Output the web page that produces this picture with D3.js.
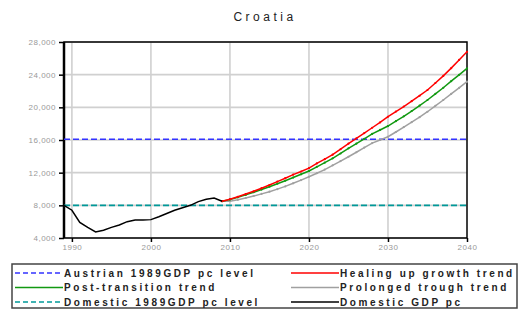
<!DOCTYPE html>
<html>
<head>
<meta charset="utf-8">
<script src="https://cdnjs.cloudflare.com/ajax/libs/d3/7.8.5/d3.min.js"></script>
<style>
  body { margin: 0; background: #fff; }
  svg { display: block; }
</style>
</head>
<body>
<div id="chart"></div>
<script>
var histYears = [1989,1990,1991,1992,1993,1994,1995,1996,1997,1998,1999,2000,2001,2002,2003,2004,2005,2006,2007,2008,2009];
var domesticGdp = [8000,7400,5900,5300,4750,4950,5300,5600,6000,6200,6200,6250,6600,7000,7400,7700,8000,8450,8750,8900,8500];

var projYears = [2009,2010,2011,2012,2013,2014,2015,2016,2017,2018,2019,2020,2021,2022,2023,2024,2025,2026,2027,2028,2029,2030,2031,2032,2033,2034,2035,2036,2037,2038,2039,2040];
var healingTrend = [8500,8750,9050,9380,9720,10100,10490,10900,11320,11760,12140,12550,13130,13650,14200,14870,15550,16200,16850,17500,18150,18850,19480,20100,20750,21420,22120,22980,23850,24800,25800,26800];
var postTransTrend = [8500,8700,8980,9280,9600,9930,10280,10640,11010,11400,11800,12200,12720,13220,13760,14350,14980,15550,16150,16750,17230,17710,18300,18900,19550,20200,20900,21650,22400,23200,23980,24780];
var troughTrend = [8500,8500,8680,8900,9140,9400,9670,9980,10320,10700,11090,11500,11930,12380,12900,13420,13950,14500,15070,15620,16000,16400,16980,17580,18180,18800,19460,20180,20900,21640,22380,23140];

var austrianLevel = 16100;
var domesticLevel = 8000;

var yTicks = [4000,8000,12000,16000,20000,24000,28000];
var xTicks = [1990,2000,2010,2020,2030,2040];

var legendLabels = ["Austrian 1989GDP pc level","Healing up growth trend","Post-transition trend","Prolonged trough trend","Domestic 1989GDP pc level","Domestic GDP pc"];

var width = 522, height = 313;
var plotL = 64, plotR = 467, plotT = 42, plotB = 238;

var svg = d3.select("#chart").append("svg")
    .attr("width", width)
    .attr("height", height);

var x = d3.scaleLinear().domain([1989, 2040]).range([plotL, plotR]);
var y = d3.scaleLinear().domain([4000, 28000]).range([plotB, plotT]);

// title
svg.append("text")
    .attr("x", 265)
    .attr("y", 21)
    .attr("text-anchor", "middle")
    .attr("font-family", "Liberation Sans, Arial, sans-serif")
    .attr("font-size", "12px")
    .attr("letter-spacing", "3.5px")
    .attr("fill", "#222")
    .text("Croatia");

// grid
svg.append("g").selectAll("line")
    .data(yTicks)
    .enter().append("line")
    .attr("x1", plotL).attr("x2", plotR)
    .attr("y1", function(d) { return y(d); })
    .attr("y2", function(d) { return y(d); })
    .attr("stroke", "#d0d0d0")
    .attr("stroke-width", 1.6);

svg.append("g").selectAll("line")
    .data(xTicks.slice(0, 5))
    .enter().append("line")
    .attr("y1", plotT).attr("y2", plotB)
    .attr("x1", function(d) { return x(d); })
    .attr("x2", function(d) { return x(d); })
    .attr("stroke", "#d0d0d0")
    .attr("stroke-width", 1.6);

// axes
var yAxis = d3.axisLeft(y).tickValues(yTicks).tickSize(5).tickPadding(3)
    .tickFormat(d3.format(","));
var xAxis = d3.axisBottom(x).tickValues(xTicks).tickSize(4).tickPadding(2)
    .tickFormat(d3.format("d"));

var gy = svg.append("g").attr("transform", "translate(" + plotL + ",0)").call(yAxis);
var gx = svg.append("g").attr("transform", "translate(0," + plotB + ")").call(xAxis);

[gy, gx].forEach(function(g) {
    g.select(".domain").remove();
    g.selectAll(".tick line").attr("stroke", "#000").attr("stroke-width", 1.5);
    g.selectAll(".tick text")
        .attr("font-family", "Liberation Sans, Arial, sans-serif")
        .attr("font-size", "8px")
        .attr("letter-spacing", "0.5px")
        .attr("fill", "#999");
});

// frame
svg.append("rect")
    .attr("x", plotL).attr("y", plotT)
    .attr("width", plotR - plotL).attr("height", plotB - plotT)
    .attr("fill", "none")
    .attr("stroke", "#000")
    .attr("stroke-width", 1.5);
svg.append("line")
    .attr("x1", plotL).attr("x2", plotL).attr("y1", plotT).attr("y2", plotB)
    .attr("stroke", "#000").attr("stroke-width", 2.5);

// reference levels
svg.append("line")
    .attr("x1", plotL).attr("x2", plotR)
    .attr("y1", y(austrianLevel)).attr("y2", y(austrianLevel))
    .attr("stroke", "#3333ff").attr("stroke-width", 1.6)
    .attr("stroke-dasharray", "6,3");
svg.append("line")
    .attr("x1", plotL).attr("x2", plotR)
    .attr("y1", y(domesticLevel)).attr("y2", y(domesticLevel))
    .attr("stroke", "#009999").attr("stroke-width", 1.6)
    .attr("stroke-dasharray", "6,3");

var line = d3.line()
    .x(function(d) { return x(d[0]); })
    .y(function(d) { return y(d[1]); });

function drawSeries(years, values, color, dots) {
    var pts = d3.zip(years, values);
    svg.append("path")
        .datum(pts)
        .attr("fill", "none")
        .attr("stroke", color)
        .attr("stroke-width", 1.5)
        .attr("d", line);
    if (dots) {
        svg.append("g").selectAll("circle")
            .data(pts)
            .enter().append("circle")
            .attr("cx", function(d) { return x(d[0]); })
            .attr("cy", function(d) { return y(d[1]); })
            .attr("r", 1.1)
            .attr("fill", color);
    }
}

drawSeries(projYears, troughTrend, "#a0a0a0", true);
drawSeries(projYears, postTransTrend, "#119911", true);
drawSeries(projYears, healingTrend, "#ff0000", true);
drawSeries(histYears, domesticGdp, "#000", false);

// legend
svg.append("rect")
    .attr("x", 12).attr("y", 264)
    .attr("width", 505).attr("height", 44)
    .attr("fill", "#fff")
    .attr("stroke", "#444")
    .attr("stroke-width", 1.5);

var legendStyles = [
    {color: "#3333ff", dash: "5,3"},
    {color: "#ff0000", dash: null},
    {color: "#119911", dash: null},
    {color: "#a0a0a0", dash: null},
    {color: "#009999", dash: "5,3"},
    {color: "#000", dash: null}
];

var legendItem = svg.append("g").selectAll("g")
    .data(legendLabels)
    .enter().append("g")
    .attr("transform", function(d, i) {
        var col = i % 2, row = Math.floor(i / 2);
        return "translate(" + (col === 0 ? 15 : 291) + "," + (273 + row * 14.5) + ")";
    });

legendItem.append("line")
    .attr("x1", 0).attr("x2", 48)
    .attr("y1", 0).attr("y2", 0)
    .attr("stroke", function(d, i) { return legendStyles[i].color; })
    .attr("stroke-width", 1.5)
    .attr("stroke-dasharray", function(d, i) { return legendStyles[i].dash; });

legendItem.append("text")
    .attr("x", 49)
    .attr("y", 3.5)
    .attr("font-family", "Liberation Sans, Arial, sans-serif")
    .attr("font-size", "10px")
    .attr("font-weight", "bold")
    .attr("letter-spacing", "2.6px")
    .attr("fill", "#222")
    .text(function(d) { return d; });
</script>
</body>
</html>
